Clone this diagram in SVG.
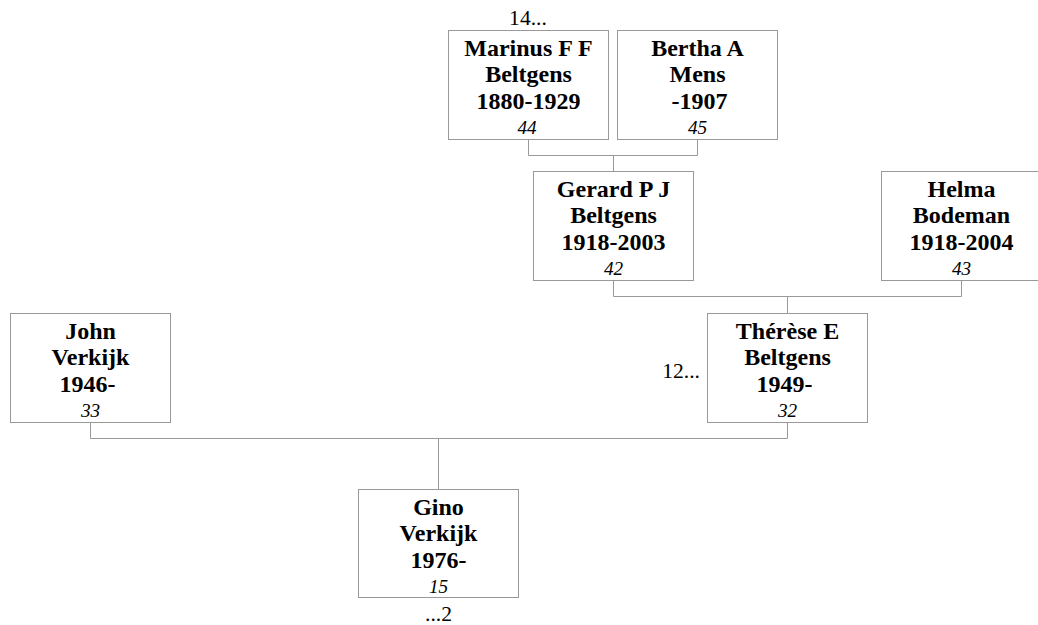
<svg xmlns="http://www.w3.org/2000/svg" width="1038" height="625" viewBox="0 0 1038 625">
<style>
.box{fill:#fff;stroke:#999;stroke-width:1}
.con{fill:none;stroke:#999;stroke-width:1}
.nm{font-family:"Liberation Serif","Times New Roman",serif;font-size:24px;font-weight:bold;text-anchor:middle;fill:#000}
.no{font-family:"Liberation Serif","Times New Roman",serif;font-size:19.2px;font-style:italic;text-anchor:middle;fill:#000}
.ref{font-family:"Liberation Serif","Times New Roman",serif;font-size:21.6px;fill:#000}
</style>
<rect width="1038" height="625" fill="#fff"/>
<g id="connectors">
<path class="con" d="M528.5 139.5V155.5H697.5V139.5M613.5 155.5V171.5"/>
<path class="con" d="M613.5 280.5V296.5H961.5V280.5M787.5 296.5V313.5"/>
<path class="con" d="M90.5 422.5V438.5H787.5V422.5M438.5 438.5V489.5"/>
</g>
<g id="n44">
<rect class="box" x="448.5" y="30.5" width="160" height="109"/>
<text class="nm" x="528.5" y="55.7">Marinus F F</text>
<text class="nm" x="528.5" y="82.3">Beltgens</text>
<text class="nm" x="528.5" y="109">1880-1929</text>
<text class="no" x="527" y="134">44</text>
<text class="ref" x="528" y="25" text-anchor="middle">14...</text>
</g>
<g id="n45">
<rect class="box" x="617.5" y="30.5" width="160" height="109"/>
<text class="nm" x="697.5" y="55.7">Bertha A</text>
<text class="nm" x="697.5" y="82.3">Mens</text>
<text class="nm" x="699.5" y="109">-1907</text>
<text class="no" x="697.5" y="134">45</text>
</g>
<g id="n42">
<rect class="box" x="533.5" y="171.5" width="160" height="109"/>
<text class="nm" x="613.5" y="196.7">Gerard P J</text>
<text class="nm" x="613.5" y="223.3">Beltgens</text>
<text class="nm" x="613.5" y="250">1918-2003</text>
<text class="no" x="613.5" y="275">42</text>
</g>
<g id="n43">
<rect class="box" x="881.5" y="171.5" width="160" height="109"/>
<text class="nm" x="961.5" y="196.7">Helma</text>
<text class="nm" x="961.5" y="223.3">Bodeman</text>
<text class="nm" x="961.5" y="250">1918-2004</text>
<text class="no" x="961.5" y="275">43</text>
</g>
<g id="n32">
<rect class="box" x="707.5" y="313.5" width="160" height="109"/>
<text class="nm" x="787.5" y="338.7">Thérèse E</text>
<text class="nm" x="787.5" y="365.3">Beltgens</text>
<text class="nm" x="784.5" y="392">1949-</text>
<text class="no" x="787.5" y="417">32</text>
<text class="ref" x="700" y="377.7" text-anchor="end">12...</text>
</g>
<g id="n33">
<rect class="box" x="10.5" y="313.5" width="160" height="109"/>
<text class="nm" x="90.5" y="338.7">John</text>
<text class="nm" x="90.5" y="365.3">Verkijk</text>
<text class="nm" x="87.5" y="392">1946-</text>
<text class="no" x="90.5" y="417">33</text>
</g>
<g id="n15">
<rect class="box" x="358.5" y="489.5" width="160" height="108"/>
<text class="nm" x="438.5" y="514.7">Gino</text>
<text class="nm" x="438.5" y="541.3">Verkijk</text>
<text class="nm" x="438.5" y="568">1976-</text>
<text class="no" x="438.5" y="593">15</text>
<text class="ref" x="438.5" y="621" text-anchor="middle">...2</text>
</g>
</svg>
